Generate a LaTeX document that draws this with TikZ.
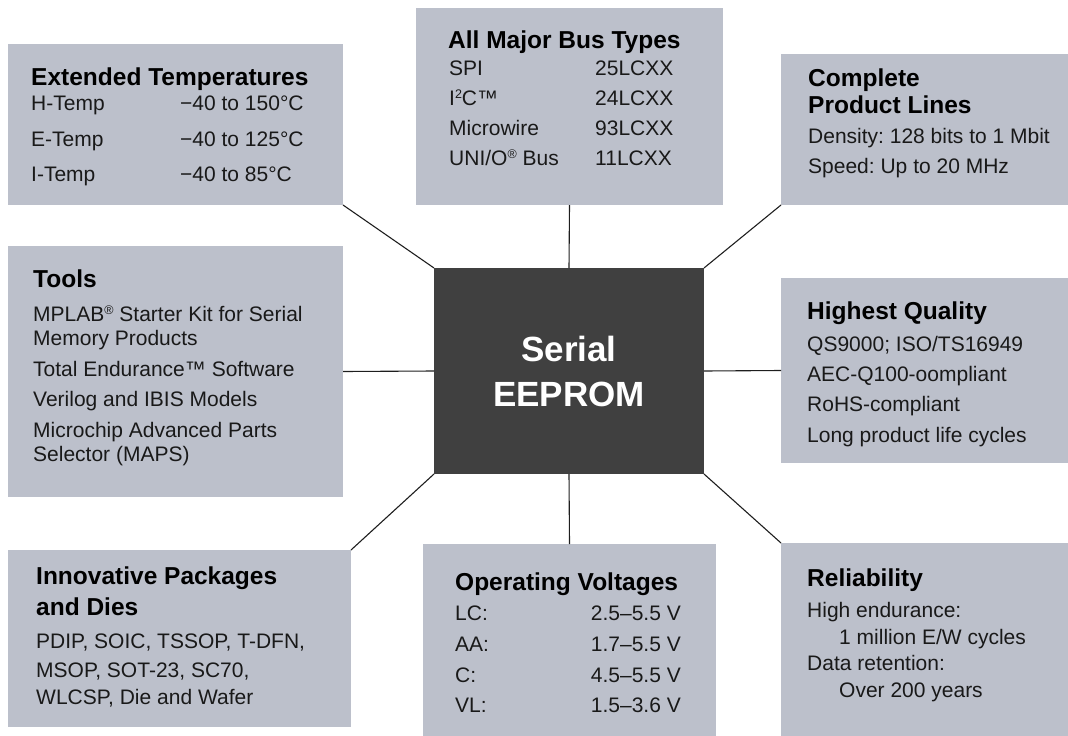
\documentclass[tikz,border=0pt]{standalone}
\usepackage{fontspec}
\setmainfont{Liberation Sans}
\frenchspacing
\definecolor{boxgray}{RGB}{188,192,203}
\definecolor{coregray}{RGB}{64,64,64}
\definecolor{linec}{RGB}{30,30,30}
\newcommand\mysup[1]{\raisebox{6.5pt}{\fontsize{12.5}{12.5}\selectfont #1}}
\tikzset{
  panel/.style={fill=boxgray, draw=none, anchor=north west, inner sep=0pt, outer sep=0pt},
  core/.style={fill=coregray, draw=none, anchor=north west, inner sep=0pt, outer sep=0pt},
  ttl/.style={anchor=base west, inner sep=0pt, font=\fontsize{24.5}{28}\selectfont\bfseries\frenchspacing, text=black},
  bd/.style={anchor=base west, inner sep=0pt, font=\fontsize{21}{25}\selectfont\frenchspacing, text=black!90},
  bdr/.style={anchor=base east, inner sep=0pt, font=\fontsize{21}{25}\selectfont\frenchspacing, text=black!90},
  coretxt/.style={anchor=base, inner sep=0pt, font=\fontsize{35}{40}\selectfont\bfseries, text=white},
  conn/.style={draw=linec, line width=1.1pt}
}
\begin{document}
\begin{tikzpicture}[x=1pt,y=-1pt]
\useasboundingbox (0,0) rectangle (1068,736);
% panels
\node[panel, minimum width=335pt, minimum height=161pt] (ext) at (8,44) {};
\node[panel, minimum width=307pt, minimum height=197pt] (bus) at (416,8) {};
\node[panel, minimum width=287pt, minimum height=151pt] (cpl) at (781,54) {};
\node[panel, minimum width=335pt, minimum height=251pt] (tools) at (8,246) {};
\node[core, minimum width=270pt, minimum height=206pt] (c) at (434,268) {};
\node[panel, minimum width=287pt, minimum height=185pt] (hq) at (781,278) {};
\node[panel, minimum width=343pt, minimum height=177pt] (inn) at (8,550) {};
\node[panel, minimum width=293pt, minimum height=192pt] (opv) at (423,544) {};
\node[panel, minimum width=287pt, minimum height=193pt] (rel) at (781,543) {};
% connectors
\draw[conn] (ext.south east) -- (c.north west);
\draw[conn] (bus.south) -- (c.north);
\draw[conn] (cpl.south west) -- (c.north east);
\draw[conn] (tools.east) -- (c.west);
\draw[conn] (hq.west) -- (c.east);
\draw[conn] (inn.north east) -- (c.south west);
\draw[conn] (opv.north) -- (c.south);
\draw[conn] (rel.north west) -- (c.south east);
% center text
\node[coretxt] (c1) at (569,361) {Serial};
\node[coretxt] (c2) at (569,406) {EEPROM};
% Extended temperatures
\node[ttl] (e0) at (31,85) {Extended Temperatures};
\node[bd] (e1) at (31,110) {H-Temp};
\node[bd] (e1v) at (180,110) {−40 to 150°C};
\node[bd] (e2) at (31,146) {E-Temp};
\node[bd] (e2v) at (180,146) {−40 to 125°C};
\node[bd] (e3) at (31,181) {I-Temp};
\node[bd] (e3v) at (180,181) {−40 to 85°C};
% Bus types
\node[ttl] (b0) at (448,48) {All Major Bus Types};
\node[bd] (b1) at (449,75) {SPI};
\node[bd] (b1v) at (595,75) {25LCXX};
\node[bd] (b2) at (449,105) {I\mysup{2}C™};
\node[bd] (b2v) at (595,105) {24LCXX};
\node[bd] (b3) at (449,135) {Microwire};
\node[bd] (b3v) at (595,135) {93LCXX};
\node[bd] (b4) at (449,165) {UNI/O\mysup{®} Bus};
\node[bd] (b4v) at (595,165) {11LCXX};
% Complete product lines
\node[ttl] (p0) at (808,86) {Complete};
\node[ttl] (p1) at (808,113) {Product Lines};
\node[bd] (p2) at (808,143) {Density: 128 bits to 1 Mbit};
\node[bd] (p3) at (808,173) {Speed: Up to 20 MHz};
% Tools
\node[ttl] (to0) at (33,287) {Tools};
\node[bd] (to1) at (33,321) {MPLAB\mysup{®} Starter Kit for Serial};
\node[bd] (to2) at (33,345) {Memory Products};
\node[bd] (to3) at (33,376) {Total Endurance™ Software};
\node[bd] (to4) at (33,406) {Verilog and IBIS Models};
\node[bd] (to5) at (33,437) {Microchip Advanced Parts};
\node[bd] (to6) at (33,461) {Selector (MAPS)};
% Highest quality
\node[ttl] (q0) at (807,319) {Highest Quality};
\node[bd] (q1) at (807,351) {QS9000; ISO/TS16949};
\node[bd] (q2) at (807,381) {AEC-Q100-oompliant};
\node[bd] (q3) at (807,411) {RoHS-compliant};
\node[bd] (q4) at (807,442) {Long product life cycles};
% Innovative packages
\node[ttl] (i0) at (36,584) {Innovative Packages};
\node[ttl] (i1) at (36,615) {and Dies};
\node[bd] (i2) at (36,648) {PDIP, SOIC, TSSOP, T-DFN,};
\node[bd] (i3) at (36,677) {MSOP, SOT-23, SC70,};
\node[bd] (i4) at (36,704) {WLCSP, Die and Wafer};
% Operating voltages
\node[ttl] (v0) at (455,590) {Operating Voltages};
\node[bd] (v1) at (455,620) {LC:};
\node[bdr] (v1v) at (681,620) {2.5–5.5 V};
\node[bd] (v2) at (455,651) {AA:};
\node[bdr] (v2v) at (681,651) {1.7–5.5 V};
\node[bd] (v3) at (455,682) {C:};
\node[bdr] (v3v) at (681,682) {4.5–5.5 V};
\node[bd] (v4) at (455,712) {VL:};
\node[bdr] (v4v) at (681,712) {1.5–3.6 V};
% Reliability
\node[ttl] (r0) at (807,586) {Reliability};
\node[bd] (r1) at (807,617) {High endurance:};
\node[bd] (r2) at (839,644) {1 million E/W cycles};
\node[bd] (r3) at (807,670) {Data retention:};
\node[bd] (r4) at (839,697) {Over 200 years};
\end{tikzpicture}
\end{document}
